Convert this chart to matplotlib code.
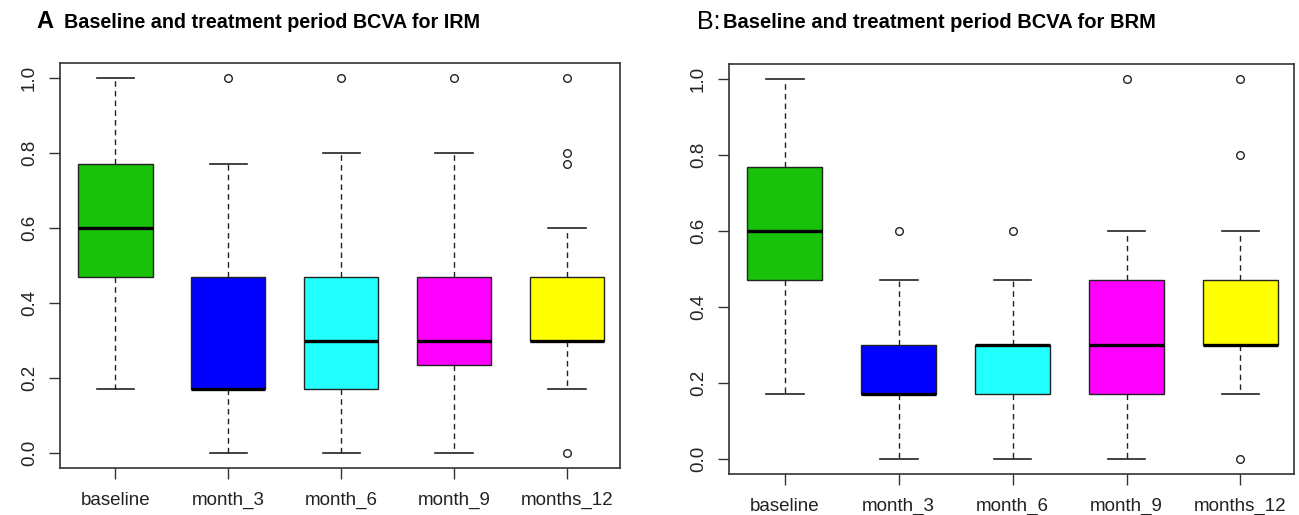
import matplotlib
matplotlib.use("Agg")
import matplotlib.pyplot as plt

categories = ["baseline", "month_3", "month_6", "month_9", "months_12"]
colors = ["#19C20A", "#0000FF", "#22FFFF", "#FF00FF", "#FFFF00"]

# IRM panel: whislo, q1, med, q3, whishi, outliers
irm_whislo = [0.17, 0.00, 0.00, 0.00, 0.17]
irm_q1     = [0.47, 0.17, 0.17, 0.235, 0.30]
irm_med    = [0.60, 0.17, 0.30, 0.30, 0.30]
irm_q3     = [0.77, 0.47, 0.47, 0.47, 0.47]
irm_whishi = [1.00, 0.77, 0.80, 0.80, 0.60]
irm_fliers = [[], [1.0], [1.0], [1.0], [1.0, 0.80, 0.77, 0.0]]

# BRM panel
brm_whislo = [0.17, 0.00, 0.00, 0.00, 0.17]
brm_q1     = [0.47, 0.17, 0.17, 0.17, 0.30]
brm_med    = [0.60, 0.17, 0.30, 0.30, 0.30]
brm_q3     = [0.77, 0.30, 0.30, 0.47, 0.47]
brm_whishi = [1.00, 0.47, 0.47, 0.60, 0.60]
brm_fliers = [[], [0.60], [0.60], [1.0], [1.0, 0.80, 0.0]]

yticks = [0.0, 0.2, 0.4, 0.6, 0.8, 1.0]
ytick_labels = ["0.0", "0.2", "0.4", "0.6", "0.8", "1.0"]

FONT = "Liberation Sans"
W, H = 1299, 515
fig = plt.figure(figsize=(W / 100, H / 100), dpi=100)


def make_axes(x0, x1, ytop, ybot):
    return fig.add_axes([x0 / W, (H - ybot) / H, (x1 - x0) / W, (ybot - ytop) / H])


def draw(ax, wlo, q1, med, q3, whi, fl):
    stats = []
    for i, c in enumerate(categories):
        stats.append(dict(label=c, whislo=wlo[i], q1=q1[i], med=med[i],
                          q3=q3[i], whishi=whi[i], fliers=fl[i]))
    pos = list(range(1, len(categories) + 1))
    bp = ax.bxp(stats, positions=pos, widths=0.66, capwidths=0.33,
                patch_artist=True, showfliers=True,
                boxprops=dict(edgecolor="#222222", linewidth=1.0),
                medianprops=dict(color="black", linewidth=2.4, solid_capstyle="butt"),
                whiskerprops=dict(color="#222222", linewidth=1.0, linestyle=(0, (4, 3))),
                capprops=dict(color="#222222", linewidth=1.2),
                flierprops=dict(marker="o", markersize=5.5, markerfacecolor="none",
                                markeredgecolor="#222222", markeredgewidth=1.0))
    for patch, col in zip(bp["boxes"], colors):
        patch.set_facecolor(col)
    ax.set_xlim(0.51, 5.47)
    ax.set_ylim(-0.04, 1.04)
    ax.set_xticks(pos)
    ax.set_xticklabels(categories, fontfamily=FONT, fontsize=13.5, color="#222222")
    ax.set_yticks(yticks)
    ax.set_yticklabels(ytick_labels, fontfamily=FONT, fontsize=13.5, color="#222222",
                       rotation=90, va="center")
    ax.tick_params(axis="both", length=8, width=1.0, color="#333333")
    ax.tick_params(axis="x", pad=9)
    ax.tick_params(axis="y", pad=8)
    for s in ax.spines.values():
        s.set_color("#333333")
        s.set_linewidth(1.2)


ax1 = make_axes(60, 620, 63, 468)
draw(ax1, irm_whislo, irm_q1, irm_med, irm_q3, irm_whishi, irm_fliers)
ax2 = make_axes(729, 1294, 64, 474)
draw(ax2, brm_whislo, brm_q1, brm_med, brm_q3, brm_whishi, brm_fliers)

fig.text(36 / W, 1 - 22 / H, "A", fontfamily=FONT, fontweight="bold", fontsize=17,
         va="center", ha="left")
fig.text(64 / W, 1 - 22 / H, "Baseline and treatment period BCVA for IRM",
         fontfamily=FONT, fontweight="bold", fontsize=14.2, va="center", ha="left")
fig.text(697 / W, 1 - 22 / H, "B:", fontfamily=FONT, fontsize=18,
         va="center", ha="left")
fig.text(723 / W, 1 - 22 / H, "Baseline and treatment period BCVA for BRM",
         fontfamily=FONT, fontweight="bold", fontsize=14.5, va="center", ha="left")

fig.savefig("out.png", dpi=100)
